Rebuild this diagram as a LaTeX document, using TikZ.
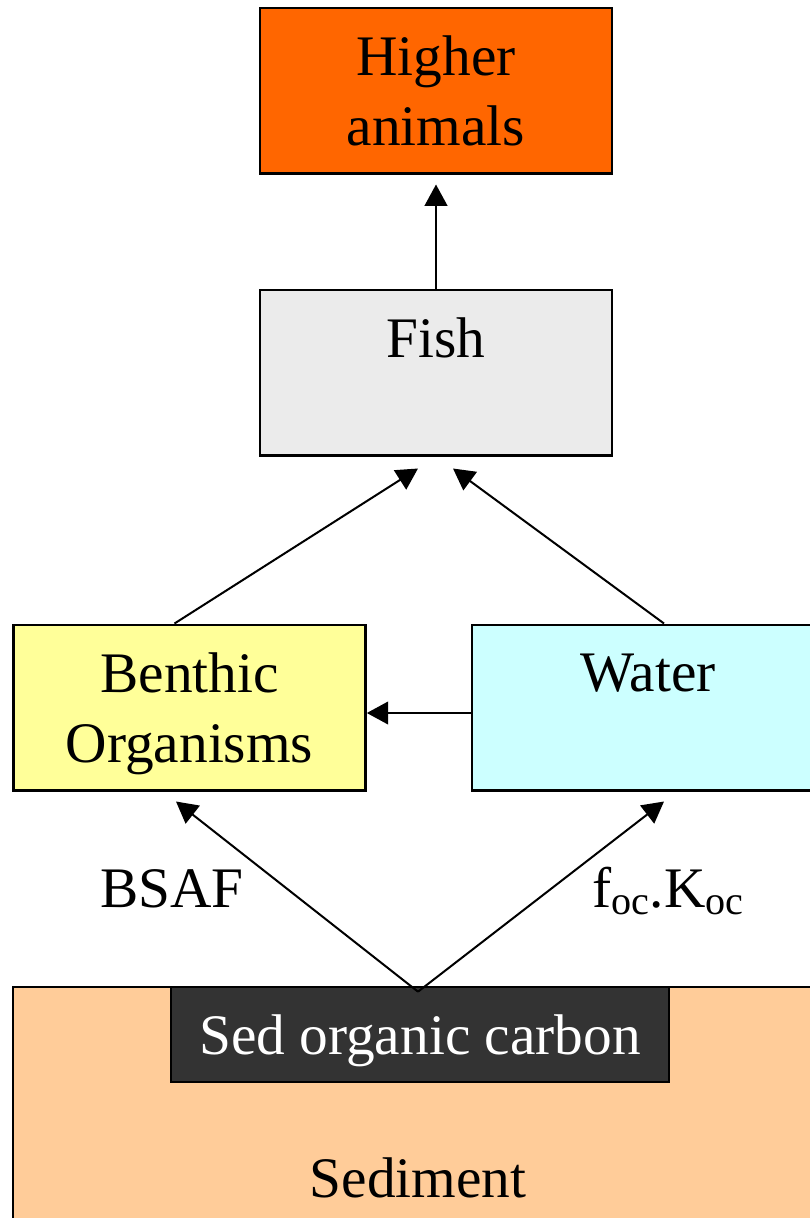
\documentclass[tikz,border=0pt]{standalone}
\usepackage{fontspec}
\setmainfont{Liberation Serif}
\usetikzlibrary{arrows.meta,positioning,calc}
\definecolor{higherfill}{HTML}{FF6600}
\definecolor{fishfill}{HTML}{EBEBEB}
\definecolor{benthicfill}{HTML}{FFFF99}
\definecolor{waterfill}{HTML}{CCFFFF}
\definecolor{sedfill}{HTML}{FFCC99}
\definecolor{sedocfill}{HTML}{333333}

\begin{document}
\begin{tikzpicture}[x=0.75pt,y=-0.75pt,->,>={Triangle[length=16pt,width=17pt]},line width=1.5pt,
  every node/.style={font=\fontsize{43}{52.5}\selectfont},
  box/.style={draw,line width=2pt,minimum width=264pt,minimum height=124pt,align=center,inner sep=0pt}]
  \useasboundingbox (0,0) rectangle (810,1218);
  \clip (0,0) rectangle (810,1218);
  \node[box,fill=higherfill] (higher) at (436,90.5) {Higher\\animals};
  \node[box,fill=fishfill] (fish) at (436,372.5) {Fish\\\mbox{}};
  \node[box,fill=benthicfill,text depth=0pt] (benthic) at (189.5,707.5) {Benthic\\Organisms};
  \node[box,fill=waterfill] (water) at (648,707.5) {Water\\\mbox{}};
  \node[draw,line width=2pt,fill=sedfill,minimum width=607.5pt,minimum height=286.5pt] (sediment) at (418,1178) {Sediment};
  \node[draw,line width=2pt,fill=sedocfill,text=white,text depth=0pt,minimum width=373.5pt,minimum height=71.25pt] (sedoc) at (420,1034.5) {Sed organic carbon};
  \coordinate (apex) at ($(sedoc.north)+(-2,6)$);
  \node[anchor=base] (bsaf) at (172,907) {BSAF};
  \node[anchor=base] (fockoc) at (668,907) {f\textsubscript{oc}.K\textsubscript{oc}};
%
  \draw[shorten >=7.5pt] (fish.north) -- (higher.south);
  \draw ($(benthic.north)+(-15,0)$) -- ($(fish.south)+(-18,12)$);
  \draw ($(water.north)+(16,0)$) -- ($(fish.south)+(17,12)$);
  \draw ($(water.west)+(0,5.5)$) -- ($(benthic.east)+(0,5.5)$);
  \draw (apex) -- ($(benthic.south)+(-13.5,10)$);
  \draw (apex) -- ($(water.south)+(16,10)$);
%
\end{tikzpicture}
\end{document}
